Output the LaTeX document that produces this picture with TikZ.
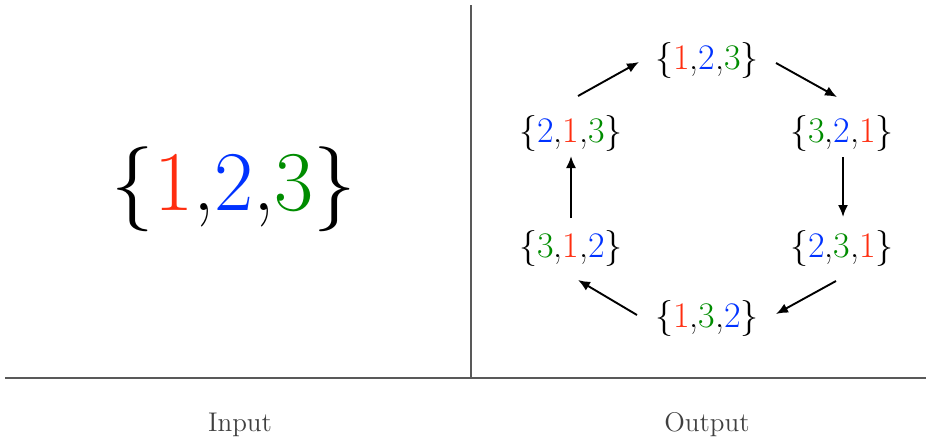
\RequirePackage{fix-cm}
\documentclass[tikz,border=0pt]{standalone}
\usetikzlibrary{arrows.meta}
\definecolor{cr}{RGB}{255,45,15}
\definecolor{cb}{RGB}{0,50,255}
\definecolor{cg}{RGB}{0,140,0}
\newcommand{\R}{\textcolor{cr}{1}}
\newcommand{\B}{\textcolor{cb}{2}}
\newcommand{\G}{\textcolor{cg}{3}}
\newcommand{\St}[3]{$\{$#1,#2,#3$\}$}
\tikzset{
  perm/.style={inner sep=0pt, font=\fontsize{18}{22}\selectfont},
  big/.style={inner sep=0pt, font=\fontsize{42.5}{50}\selectfont},
  lab/.style={inner sep=0pt, font=\fontsize{13.5}{16}\selectfont, text=black!75},
  rule/.style={draw=black!65, line width=0.7pt},
  arr/.style={-{Latex[length=6pt,width=5pt]}, line width=0.95pt}
}
\begin{document}
\begin{tikzpicture}[x={(0.5pt,0)}, y={(0,-0.5pt)}]
\useasboundingbox (0,0) rectangle (926,440);
% frame lines
\coordinate (vt) at (471,5);
\coordinate (vb) at (471,378);
\coordinate (hl) at (5,378);
\coordinate (hr) at (926,378);
\draw[rule] (vt) -- (vb);
\draw[rule] (hl) -- (hr);
% input
\node[big] (in) at (234,189) {\St{\R}{\B}{\G}};
\node[lab] (inl) at (240,425) {Input};
\node[lab] (outl) at (707,425) {Output};
% output permutations
\node[perm] (t)  at (707,60)  {\St{\R}{\B}{\G}};
\node[perm] (ur) at (842,133) {\St{\G}{\B}{\R}};
\node[perm] (lr) at (842,248) {\St{\B}{\G}{\R}};
\node[perm] (b)  at (707,318) {\St{\R}{\G}{\B}};
\node[perm] (ll) at (571,248) {\St{\G}{\R}{\B}};
\node[perm] (ul) at (571,133) {\St{\B}{\R}{\G}};
% arrow end points
\coordinate (a1s) at (578,96);  \coordinate (a1e) at (639,62);
\coordinate (a2s) at (776,63);  \coordinate (a2e) at (837,97);
\coordinate (a3s) at (843,157); \coordinate (a3e) at (843,217);
\coordinate (a4s) at (836,281); \coordinate (a4e) at (776,314);
\coordinate (a5s) at (637,315); \coordinate (a5e) at (578,280);
\coordinate (a6s) at (571,218); \coordinate (a6e) at (571,156);
\draw[arr] (a1s) -- (a1e);
\draw[arr] (a2s) -- (a2e);
\draw[arr] (a3s) -- (a3e);
\draw[arr] (a4s) -- (a4e);
\draw[arr] (a5s) -- (a5e);
\draw[arr] (a6s) -- (a6e);
\end{tikzpicture}
\end{document}
